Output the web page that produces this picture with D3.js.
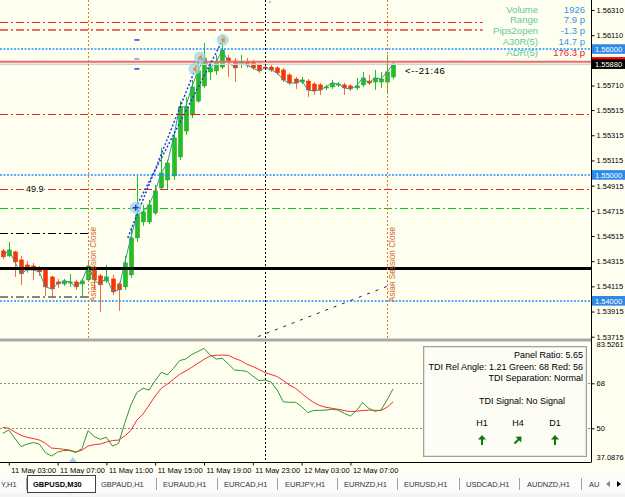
<!DOCTYPE html>
<html><head><meta charset="utf-8">
<script src="https://cdn.jsdelivr.net/npm/d3@7"></script>
<style>
html,body{margin:0;padding:0;background:#fffff0;overflow:hidden;}
svg{display:block;font-family:"Liberation Sans",Arial,sans-serif;}
</style></head><body>
<svg id="c" width="625" height="497"></svg>
<script>
// ---------------- DATA ----------------
const opens = [1.54397,1.54357,1.54389,1.54325,1.54285,1.54277,1.54262,1.54254,1.54190,1.54150,
1.54134,1.54142,1.54150,1.54134,1.54166,1.54262,1.54198,1.54158,1.54174,1.54134,
1.54111,1.54206,1.54500,1.54627,1.54627,1.54698,1.54897,1.54960,1.54992,1.55143,
1.55349,1.55476,1.55587,1.55707,1.55818,1.55826,1.55857,1.55929,1.55905,1.55889,
1.55897,1.55897,1.55873,1.55857,1.55857,1.55850,1.55834,1.55794,1.55762,1.55738,
1.55746,1.55722,1.55715,1.55691,1.55699,1.55715,1.55715,1.55707,1.55691,1.55715,
1.55746,1.55738,1.55738,1.55738,1.55778];
const highs = [1.54412,1.54468,1.54397,1.54357,1.54317,1.54301,1.54277,1.54269,1.54198,1.54174,
1.54174,1.54214,1.54166,1.54182,1.54325,1.54277,1.54214,1.54285,1.54206,1.54150,
1.54357,1.54579,1.54992,1.54762,1.54801,1.54921,1.55214,1.55119,1.55349,1.55587,
1.55619,1.55754,1.55929,1.56048,1.55897,1.55953,1.56112,1.55953,1.55929,1.55953,
1.55929,1.55913,1.55889,1.55873,1.55873,1.55865,1.55850,1.55810,1.55778,1.55778,
1.55762,1.55738,1.55730,1.55715,1.55754,1.55738,1.55730,1.55722,1.55770,1.55818,
1.55794,1.55834,1.55818,1.55953,1.55897];
const lows = [1.54333,1.54349,1.54190,1.54127,1.54222,1.54166,1.54198,1.54039,1.54031,1.54103,
1.54119,1.54111,1.54087,1.54031,1.54150,1.54087,1.53912,1.54142,1.54047,1.53920,
1.54087,1.54182,1.54468,1.54595,1.54611,1.54682,1.54881,1.54881,1.54960,1.55119,
1.55318,1.55452,1.55572,1.55691,1.55754,1.55794,1.55842,1.55778,1.55738,1.55850,
1.55850,1.55834,1.55810,1.55834,1.55818,1.55794,1.55738,1.55715,1.55683,1.55722,
1.55619,1.55635,1.55635,1.55675,1.55683,1.55699,1.55635,1.55667,1.55675,1.55699,
1.55715,1.55675,1.55691,1.55659,1.55762];
const closes = [1.54349,1.54404,1.54309,1.54214,1.54246,1.54246,1.54230,1.54111,1.54095,1.54134,
1.54158,1.54150,1.54111,1.54158,1.54277,1.54166,1.54127,1.54190,1.54071,1.54087,
1.54301,1.54500,1.54682,1.54706,1.54762,1.54873,1.55016,1.55095,1.55294,1.55540,
1.55540,1.55699,1.55826,1.55929,1.55850,1.55897,1.55992,1.55897,1.55850,1.55897,
1.55873,1.55850,1.55826,1.55850,1.55834,1.55810,1.55754,1.55730,1.55730,1.55754,
1.55675,1.55667,1.55675,1.55699,1.55730,1.55722,1.55691,1.55683,1.55707,1.55770,
1.55730,1.55770,1.55762,1.55818,1.55880];

const tdiGreen = [48.0,49.3,46.0,42.7,43.7,44.3,43.7,40.3,38.9,40.5,
41.1,41.1,40.3,41.9,49.1,46.7,45.6,46.4,42.9,44.0,
52.0,59.3,64.3,66.0,65.3,69.1,72.4,71.4,74.0,77.1,
77.7,79.5,80.7,82.0,79.3,77.7,78.0,75.7,73.3,73.1,
72.8,70.9,69.1,69.3,68.5,65.3,60.6,60.4,60.4,58.7,
56.3,57.1,57.2,57.3,57.6,57.3,56.0,54.9,57.1,60.3,
58.0,56.8,57.3,61.3,65.8];
const tdiRed = [50.4,50.0,48.5,47.2,46.4,45.9,45.3,44.0,42.1,41.9,
41.6,41.3,40.5,41.3,42.9,43.5,43.7,44.5,45.1,45.3,
46.9,49.1,53.3,55.7,59.3,62.9,66.0,67.7,69.6,71.6,
72.9,74.4,76.0,77.6,78.9,79.2,79.3,79.2,78.0,77.1,
75.7,74.7,73.6,72.3,71.5,70.7,69.1,67.3,66.0,64.0,
62.0,60.3,59.1,58.4,58.0,57.6,57.1,56.7,56.8,57.1,
57.3,57.2,57.1,58.4,60.6];

const timeTickBars = [1,9,17,25,33,41,49,57];
const timeTickLabels = ["11 May 03:00","11 May 07:00","11 May 11:00","11 May 15:00","11 May 19:00","11 May 23:00","12 May 03:00","12 May 07:00"];
const priceTicks = [1.56310,1.56110,1.55710,1.55515,1.55315,1.55115,1.54915,1.54715,1.54515,1.54315,1.54115,1.53915,1.53715];
const tdiTicks = [83.5261,68,50,37.0876];
const tdiLevels = [68,50];

const levelPrices = [1.56215,1.56151,1.56000,1.55484,1.55000,1.54889,1.54738,1.54539,1.54262,1.54031,1.54000];
const levelKinds  = ["redDD","pinkDD","blueDot","redDD","blueDot","redDD","greenDD","blackDD","blackSolid","grayDD","blueDot"];
const levelEndBars = [78.7,78.7,null,null,null,null,null,14,null,14,null];
const levelLabel = "49.9";
const levelLabelPrice = 1.54889;

const askPrice = 1.55898;
const bidPrice = 1.55880;
const markedPrices = [1.56000,1.55000,1.54000];

const sessionCloseBars = [14,63];
const sessionText = "Asian Session Close";
const daySeparatorBars = [43];

const trendA = [[20.5,1.54500],[32.3,1.55929]];
const trendB = [[21.8,1.54740],[36.07,1.56072]];
const navyLine = [[40.5,1.53690],[64.0,1.54134]];
const circlePts = [[21.8,1.54740],[31.44,1.55842],[32.34,1.55933],[36.07,1.56072]];
const dashMarkBar = 22.0;
const dashMarkPrices = [1.56072,1.55921,1.55842];

const infoLabels = ["Volume","Range","Pips2open","A30R(5)","ADR(5)"];
const infoValues = ["1926","7.9 p","-1.3 p","14.7 p","176.3 p"];
const timerText = "<--21:46";

const panelLines = ["Panel Ratio: 5.65","TDI Rel Angle: 1.21 Green: 68 Red: 56","TDI Separation: Normal"];
const panelSignal = "TDI Signal: No Signal";
const panelTF = ["H1","H4","D1"];
const panelDirs = [0,45,0];

const tabNames = ["Y,H1","GBPUSD,M30","GBPAUD,H1","EURAUD,H1","EURCAD,H1","EURJPY,H1","EURNZD,H1","EURUSD,H1","USDCAD,H1","AUDNZD,H1","AU"];

// ---------------- LAYOUT ----------------
const svg = d3.select("#c");
const BG = "#fffff0";
const AX = 591, MAIN_B = 338, IND_T = 342, IND_B = 462;

const x = d3.scaleLinear().domain([0,64]).range([2.7,393.1]);
const y = d3.scaleLinear().domain([1.53715,1.56310]).range([336.7,10]);
const yi = d3.scaleLinear().domain([50,68]).range([428.3,383.3]);

svg.append("rect").attr("width",625).attr("height",497).attr("fill",BG);

const defs = svg.append("defs");
defs.append("clipPath").attr("id","clipMain").append("rect").attr("x",0).attr("y",0).attr("width",AX).attr("height",MAIN_B);
defs.append("clipPath").attr("id","clipInd").append("rect").attr("x",0).attr("y",IND_T).attr("width",AX).attr("height",IND_B-IND_T);

const gMain = svg.append("g").attr("clip-path","url(#clipMain)");
const gInd = svg.append("g").attr("clip-path","url(#clipInd)");

// ---- candles ----
const idx = opens.map((d,i)=>i);
const bullC = "#22c022", bearC = "#ff3300";
const gC = gMain.append("g");
gC.selectAll("line.w").data(idx).join("line")
  .attr("x1",i=>Math.round(x(i))+0.5).attr("x2",i=>Math.round(x(i))+0.5)
  .attr("y1",i=>y(highs[i])).attr("y2",i=>y(lows[i]))
  .attr("stroke",i=>closes[i]>=opens[i]?bullC:"#f26a48").attr("stroke-width",1);
gC.selectAll("rect.b").data(idx).join("rect")
  .attr("x",i=>Math.round(x(i))-1.5).attr("width",4)
  .attr("y",i=>y(Math.max(opens[i],closes[i])))
  .attr("height",i=>Math.max(1,Math.abs(y(opens[i])-y(closes[i]))))
  .attr("fill",i=>closes[i]>=opens[i]?bullC:bearC)
  .attr("stroke",i=>closes[i]>=opens[i]?"#189a18":"#e83000").attr("stroke-width",0.5);

gMain.append("path").datum(idx)
  .attr("d",d3.line().x(i=>x(i)).y(i=>y(closes[i])))
  .attr("fill","none").attr("stroke","#2a9a9a").attr("stroke-width",1);

// ---- ask / bid lines ----
gMain.append("line").attr("x1",0).attr("x2",AX).attr("y1",y(askPrice)).attr("y2",y(askPrice))
  .attr("stroke","#f06868").attr("stroke-width",2);
gMain.append("line").attr("x1",0).attr("x2",AX).attr("y1",y(bidPrice)).attr("y2",y(bidPrice))
  .attr("stroke","#c4dada").attr("stroke-width",1.5);

// ---- level lines ----
const levelStyle = {
  redDD:{c:"#ff1a1a",d:"8,3,2,3",w:1},
  pinkDD:{c:"#f26a6a",d:"8,3,2,3",w:2},
  blueDot:{c:"#1e90ff",d:"2,1.5",w:1.4},
  greenDD:{c:"#18c018",d:"8,3,2,3",w:1},
  blackDD:{c:"#000",d:"8,3,2,3",w:1},
  blackSolid:{c:"#000",d:null,w:3},
  grayDD:{c:"#606060",d:"8,3,2,3",w:1.6}
};
levelPrices.forEach((p,i)=>{
  const s = levelStyle[levelKinds[i]];
  const x2 = levelEndBars[i]==null ? AX : x(levelEndBars[i]);
  const yy = Math.round(y(p)) + (s.w%2===1?0.5:0);
  gMain.append("line").attr("x1",0).attr("x2",x2).attr("y1",yy).attr("y2",yy)
    .attr("stroke",s.c).attr("stroke-width",s.w).attr("stroke-dasharray",s.d);
});
gMain.append("rect").attr("x",25).attr("y",y(levelLabelPrice)-5).attr("width",19).attr("height",10).attr("fill",BG);
gMain.append("text").attr("x",26).attr("y",y(levelLabelPrice)+3.2).attr("font-size",9).attr("fill","#000").text(levelLabel);

// ---- trend lines ----
const ln = d3.line().x(d=>x(d[0])).y(d=>y(d[1]));
[trendA,trendB].forEach(t=>{
  gMain.append("path").datum(t).attr("d",ln).attr("fill","none")
    .attr("stroke","#1a3be0").attr("stroke-width",1.5).attr("stroke-dasharray","2,2");
});
gMain.append("path").datum(navyLine).attr("d",ln).attr("fill","none")
  .attr("stroke","#1c1c78").attr("stroke-width",1).attr("stroke-dasharray","3,6");

gMain.selectAll("circle.hl").data(circlePts).join("circle")
  .attr("cx",d=>x(d[0])).attr("cy",d=>y(d[1])).attr("r",6)
  .attr("fill","#9fd3e6").attr("fill-opacity",0.75);
{
  const cx = x(circlePts[0][0]), cy = y(circlePts[0][1]);
  gMain.append("path").attr("d",`M${cx-3},${cy}H${cx+3}M${cx},${cy-3}V${cy+3}`)
    .attr("stroke","#1a3be0").attr("stroke-width",1.5);
}
circlePts.slice(1).forEach(d=>{
  const cx = x(d[0]), cy = y(d[1]);
  gMain.append("path").attr("d",`M${cx-2},${cy}L${cx+2},${cy-3}L${cx+2},${cy+3}Z`).attr("fill","#f09020");
});
dashMarkPrices.forEach((p,i)=>{
  gMain.append("line").attr("x1",x(dashMarkBar)-2.5).attr("x2",x(dashMarkBar)+2.5)
    .attr("y1",y(p)).attr("y2",y(p)).attr("stroke",i===1?"#8a8ae8":"#2040e0").attr("stroke-width",1.5);
});
gMain.append("circle").attr("cx",x(43.8)).attr("cy",2).attr("r",1.3).attr("fill","#9fd3e6");

// ---- vertical lines ----
sessionCloseBars.forEach(b=>{
  const xx = Math.round(x(b))+0.5;
  gMain.append("line").attr("x1",xx).attr("x2",xx).attr("y1",0).attr("y2",MAIN_B)
    .attr("stroke","#e8742e").attr("stroke-width",1).attr("stroke-dasharray","2,2");
  gMain.append("text").attr("transform",`translate(${xx+7.5},302) rotate(-90)`)
    .attr("font-size",8.2).attr("fill","#d2691e").text(sessionText);
});
daySeparatorBars.forEach(b=>{
  const xx = Math.round(x(b))+0.5;
  svg.append("line").attr("x1",xx).attr("x2",xx).attr("y1",0).attr("y2",MAIN_B)
    .attr("stroke","#000").attr("stroke-width",1).attr("stroke-dasharray","2,2");
  svg.append("line").attr("x1",xx).attr("x2",xx).attr("y1",IND_T).attr("y2",IND_B)
    .attr("stroke","#000").attr("stroke-width",1).attr("stroke-dasharray","2,2");
});

gMain.append("text").attr("x",405).attr("y",74).attr("font-size",9.5).attr("letter-spacing",0.6).attr("fill","#000").text(timerText);

infoLabels.forEach((t,i)=>{
  const yy = 12.6 + i*10.8;
  svg.append("text").attr("x",538).attr("y",yy).attr("text-anchor","end").attr("font-size",9.5)
    .attr("fill","#5cc8a0").text(t);
  svg.append("text").attr("x",585).attr("y",yy).attr("text-anchor","end").attr("font-size",9.5)
    .attr("fill",i===4?"#e8202a":"#3a90e8").text(infoValues[i]);
});

// ---- pane separator & axes ----
svg.append("rect").attr("x",0).attr("y",338.5).attr("width",AX).attr("height",3).attr("fill","#a8a8a8");
svg.append("line").attr("x1",0).attr("x2",AX+0.5).attr("y1",IND_B+0.5).attr("y2",IND_B+0.5).attr("stroke","#000");

const pAxis = svg.append("g").attr("transform",`translate(${AX+0.5},0)`)
  .call(d3.axisRight(y).tickValues(priceTicks).tickSize(3).tickPadding(2).tickFormat(d3.format(".5f")));
pAxis.select(".domain").attr("d",`M0,0V${IND_B}`).attr("stroke","#000");
pAxis.selectAll("text").attr("font-size",7.5).attr("font-family",'"Liberation Sans",Arial,sans-serif').attr("fill","#000");

function priceTag(p, bg, fg, withText){
  const yy = y(p);
  svg.append("rect").attr("x",AX+1).attr("y",yy-4.8).attr("width",33).attr("height",9.6).attr("fill",bg);
  if(withText) svg.append("text").attr("x",AX+4).attr("y",yy+2.7).attr("font-size",7.5).attr("fill",fg).text(d3.format(".5f")(p));
}
markedPrices.forEach(p=>priceTag(p,"#2e8ae6","#fff",true));
priceTag(askPrice,"#ff0000","#fff",false);
priceTag(bidPrice,"#000","#fff",true);

// ---- indicator pane ----
tdiLevels.forEach(v=>{
  gInd.append("line").attr("x1",0).attr("x2",AX).attr("y1",Math.round(yi(v))+0.5).attr("y2",Math.round(yi(v))+0.5)
    .attr("stroke","#8c8c8c").attr("stroke-dasharray","2,2");
});
gInd.append("path").datum(idx).attr("d",d3.line().x(i=>x(i)).y(i=>yi(tdiRed[i])))
  .attr("fill","none").attr("stroke","#ff2828").attr("stroke-width",1);
gInd.append("path").datum(idx).attr("d",d3.line().x(i=>x(i)).y(i=>yi(tdiGreen[i])))
  .attr("fill","none").attr("stroke","#2f962f").attr("stroke-width",1);
gInd.append("path").attr("d",`M${x(11.5)-4},462L${x(11.5)},457L${x(11.5)+4},462Z`).attr("fill","#9fd3e6");

const iAxis = svg.append("g").attr("transform",`translate(${AX+0.5},0)`)
  .call(d3.axisRight(yi).tickValues(tdiTicks).tickSize(3).tickPadding(2).tickFormat(d=>String(d)));
iAxis.select(".domain").remove();
iAxis.selectAll("text").attr("font-size",7.5).attr("font-family",'"Liberation Sans",Arial,sans-serif').attr("fill","#000");
iAxis.selectAll(".tick").filter(d=>d===37.0876).attr("transform",`translate(0,${yi(37.0876)-3.3})`).select("line").remove();
iAxis.selectAll(".tick").filter(d=>d===83.5261).select("line").remove();

// panel
svg.append("rect").attr("x",423.5).attr("y",346.5).attr("width",163).attr("height",110)
  .attr("fill","#fdfdf6").attr("stroke","#a0a0a0");
svg.append("rect").attr("x",424.5).attr("y",347.5).attr("width",161).attr("height",108)
  .attr("fill","none").attr("stroke","#e4e4e4");
panelLines.forEach((t,i)=>{
  svg.append("text").attr("x",583).attr("y",358.3+i*11.4).attr("text-anchor","end")
    .attr("font-size",9).attr("fill","#000").text(t);
});
svg.append("text").attr("x",522).attr("y",404.3).attr("text-anchor","middle").attr("font-size",9).attr("fill","#000").text(panelSignal);
const tfX = [482,518,555];
panelTF.forEach((t,i)=>{
  svg.append("text").attr("x",tfX[i]).attr("y",426.3).attr("text-anchor","middle").attr("font-size",9).attr("fill","#000").text(t);
  const cx = tfX[i], cy = 440;
  const g = svg.append("g").attr("transform",`rotate(${panelDirs[i]},${cx},${cy})`);
  g.append("path").attr("d",`M${cx-4},${cy-0.5}L${cx},${cy-5}L${cx+4},${cy-0.5}Z`).attr("fill","#0b780b");
  g.append("line").attr("x1",cx).attr("x2",cx).attr("y1",cy-2).attr("y2",cy+5).attr("stroke","#0b780b").attr("stroke-width",2);
});

// ---- time axis ----
const tAxis = svg.append("g").attr("transform",`translate(0,${IND_B+0.5})`)
  .call(d3.axisBottom(x).tickValues(timeTickBars).tickSize(3).tickFormat((d,i)=>timeTickLabels[i]));
tAxis.select(".domain").remove();
tAxis.selectAll(".tick line").attr("stroke","#000");
tAxis.selectAll("text").attr("text-anchor","start").attr("x",2).attr("y",5).attr("dy","0.71em")
  .attr("font-size",7.5).attr("font-family",'"Liberation Sans",Arial,sans-serif').attr("fill","#000");

// ---- tabs ----
svg.append("rect").attr("x",0).attr("y",474).attr("width",625).attr("height",23).attr("fill","#f4f4f4");
svg.append("rect").attr("x",0).attr("y",474).attr("width",625).attr("height",19).attr("fill","#fbfbfb");
const sepX = [26,95,156,217,277,337,397,459,519,581];
const tabStart = [1,33,101,163,224,285,344,404,466,527,589];
svg.append("rect").attr("x",27.5).attr("y",475.5).attr("width",68).attr("height",17).attr("fill","#fff").attr("stroke","#404040");
sepX.forEach((sx,i)=>{
  if(i===1) return;
  svg.append("line").attr("x1",sx+0.5).attr("x2",sx+0.5).attr("y1",478).attr("y2",490).attr("stroke","#a0a0a0");
});
tabNames.forEach((t,i)=>{
  svg.append("text").attr("x",tabStart[i]).attr("y",487).attr("font-size",7.5)
    .attr("fill",i===1?"#000":"#333").attr("font-weight",i===1?"bold":"normal").text(t);
});
svg.append("rect").attr("x",600).attr("y",476).attr("width",25).attr("height",15).attr("fill","#fbfbfb");
svg.append("path").attr("d","M606,484L610,481L610,487Z").attr("fill","#888");
svg.append("path").attr("d","M621,484L617,481L617,487Z").attr("fill","#000");
</script>
</body></html>
